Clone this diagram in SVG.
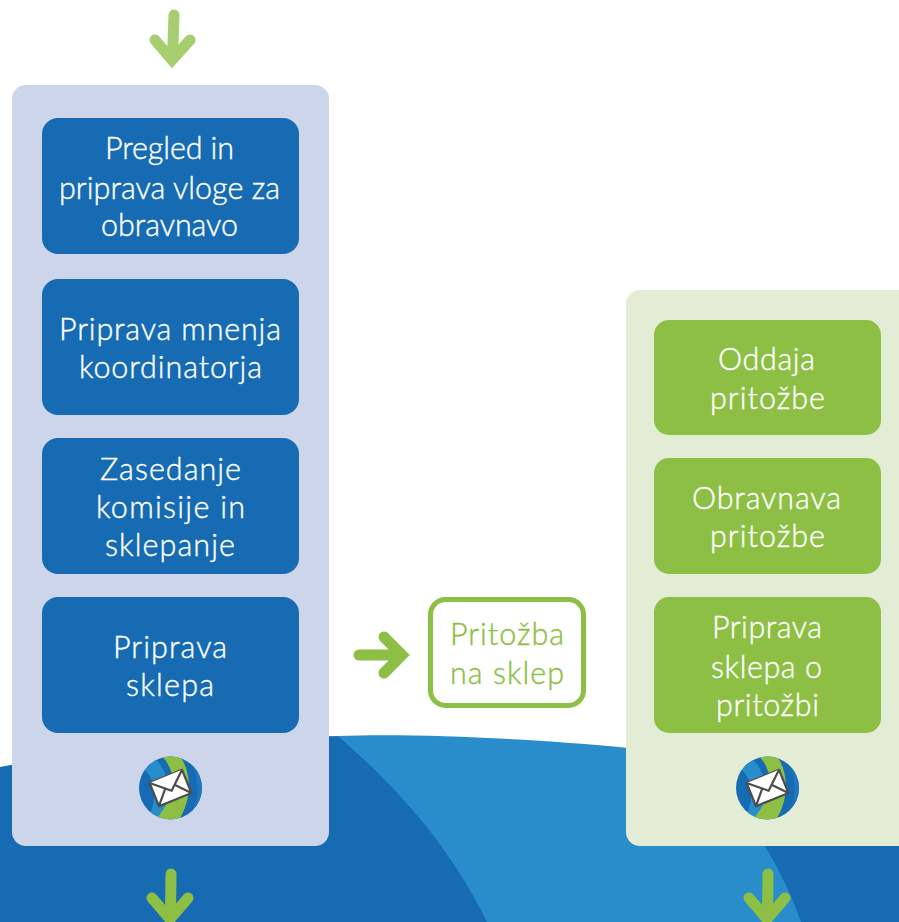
<svg xmlns="http://www.w3.org/2000/svg" width="899" height="922" viewBox="0 0 899 922">
<style>
text{font-family:"Lato","Open Sans","Liberation Sans",sans-serif;font-size:30.5px;font-weight:300;text-anchor:middle}
.w{fill:#fff;stroke:#fff;stroke-width:.4px}
.g{fill:#8cbf44;stroke:#8cbf44;stroke-width:.4px}
.blue{fill:#166bb3}
.green{fill:#8cbf44}
.arr{fill:none;stroke:#8cbf44;stroke-width:11px;stroke-linecap:round;stroke-linejoin:miter}
.env{fill:#fff;stroke:#4d4d4f;stroke-width:2.2;stroke-linejoin:round}
</style>
<defs>
<clipPath id="c"><circle cx="0" cy="0" r="31.500"/></clipPath>
<g id="mail">
<circle r="31.500" fill="#166bb3"/>
<g clip-path="url(#c)">
<path d="M-32,-22C-16,-14 -10,6 -24,34L-10,34C6,6 -2,-18 -20,-34Z" fill="#2a8dcb"/>
<path d="M-11,-34C8,-18 6,10 -17,34L7,34C22,12 22,-16 8,-34Z" fill="#8cbf44"/>
<path d="M17,-34C30,-14 30,14 18,34L24,34C36,14 36,-14 23,-34Z" fill="#1f78bd"/>
</g>
<g transform="rotate(-22)">
<rect x="-17.500" y="-12.500" width="35" height="25" class="env"/>
<path d="M-17.500,-12.500L0,3L17.500,-12.500M-17.500,12.500L-5,-1.500M17.500,12.500L5,-1.500" class="env" fill="none"/>
</g>
</g>
</defs>

<g id="background">
<path d="M0,767C110,745 240,736 345,736C450,736 545,740 640,752C730,763 820,775 899,790V922H0Z" fill="#166bb3"/>
<path d="M338,736C370,765 440,825 487,922H801C792,895 778,868 765,846C750,815 735,785 720,760C640,745 450,732 338,736Z" fill="#2a8dcb"/>
</g>

<g id="panel-left"><rect x="12" y="85" width="317" height="761" rx="14" fill="#cdd5ea"/></g>
<g id="panel-right"><path d="M899,290H640a14,14 0 0 0 -14,14V832a14,14 0 0 0 14,14H899Z" fill="#e3ecd5"/></g>

<g id="node-pregled"><rect class="blue" x="42" y="118" width="257" height="136" rx="16"/>
<text class="w" x="169.500" y="159" textLength="129">Pregled in</text><text class="w" x="169.500" y="199" textLength="221">priprava vloge za</text><text class="w" x="169.500" y="236" textLength="137">obravnavo</text></g>
<g id="node-mnenje"><rect class="blue" x="42" y="279" width="257" height="136" rx="16"/>
<text class="w" x="170" y="340" textLength="222">Priprava mnenja</text><text class="w" x="170.500" y="378" textLength="183">koordinatorja</text></g>
<g id="node-zasedanje"><rect class="blue" x="42" y="438" width="257" height="136" rx="16"/>
<text class="w" x="170.500" y="480" textLength="141">Zasedanje</text><text class="w" x="170.500" y="518" textLength="149">komisije in</text><text class="w" x="170" y="556" textLength="130">sklepanje</text></g>
<g id="node-sklep"><rect class="blue" x="42" y="597" width="257" height="136" rx="16"/>
<text class="w" x="170" y="658" textLength="114">Priprava</text><text class="w" x="170" y="696" textLength="88">sklepa</text></g>

<g id="node-pritozba"><rect x="430.500" y="599.500" width="153" height="106" rx="15" fill="#fff" stroke="#8cbf44" stroke-width="5"/>
<text class="g" x="507" y="645" textLength="114">Pritožba</text><text class="g" x="507" y="684" textLength="114">na sklep</text></g>

<g id="node-oddaja"><rect class="green" x="654" y="320" width="227" height="115" rx="15"/>
<text class="w" x="766.500" y="370" textLength="97">Oddaja</text><text class="w" x="767.500" y="409" textLength="115">pritožbe</text></g>
<g id="node-obravnava"><rect class="green" x="654" y="458" width="227" height="116" rx="15"/>
<text class="w" x="766.500" y="509" textLength="149">Obravnava</text><text class="w" x="767.500" y="547" textLength="115">pritožbe</text></g>
<g id="node-priprava"><rect class="green" x="654" y="597" width="227" height="136" rx="15"/>
<text class="w" x="767" y="638" textLength="110">Priprava</text><text class="w" x="766.500" y="678" textLength="111">sklepa o</text><text class="w" x="767.500" y="716" textLength="103">pritožbi</text></g>

<g id="icon-left"><use href="#mail" transform="translate(170.500,788)"/></g>
<g id="icon-right"><use href="#mail" transform="translate(767.500,788)"/></g>

<g id="connectors">
<path class="arr" style="stroke:#a6ce6e" d="M174,15L172.500,58M155,40L172,60L190,40"/>
<path class="arr" d="M359,655H400M384,637L402,655L384,673"/>
<path class="arr" d="M171,874L170.500,916M152,898L170,919L188,898"/>
<path class="arr" d="M768,874L767.500,916M749,898L767,919L785,898"/>
</g>
</svg>
